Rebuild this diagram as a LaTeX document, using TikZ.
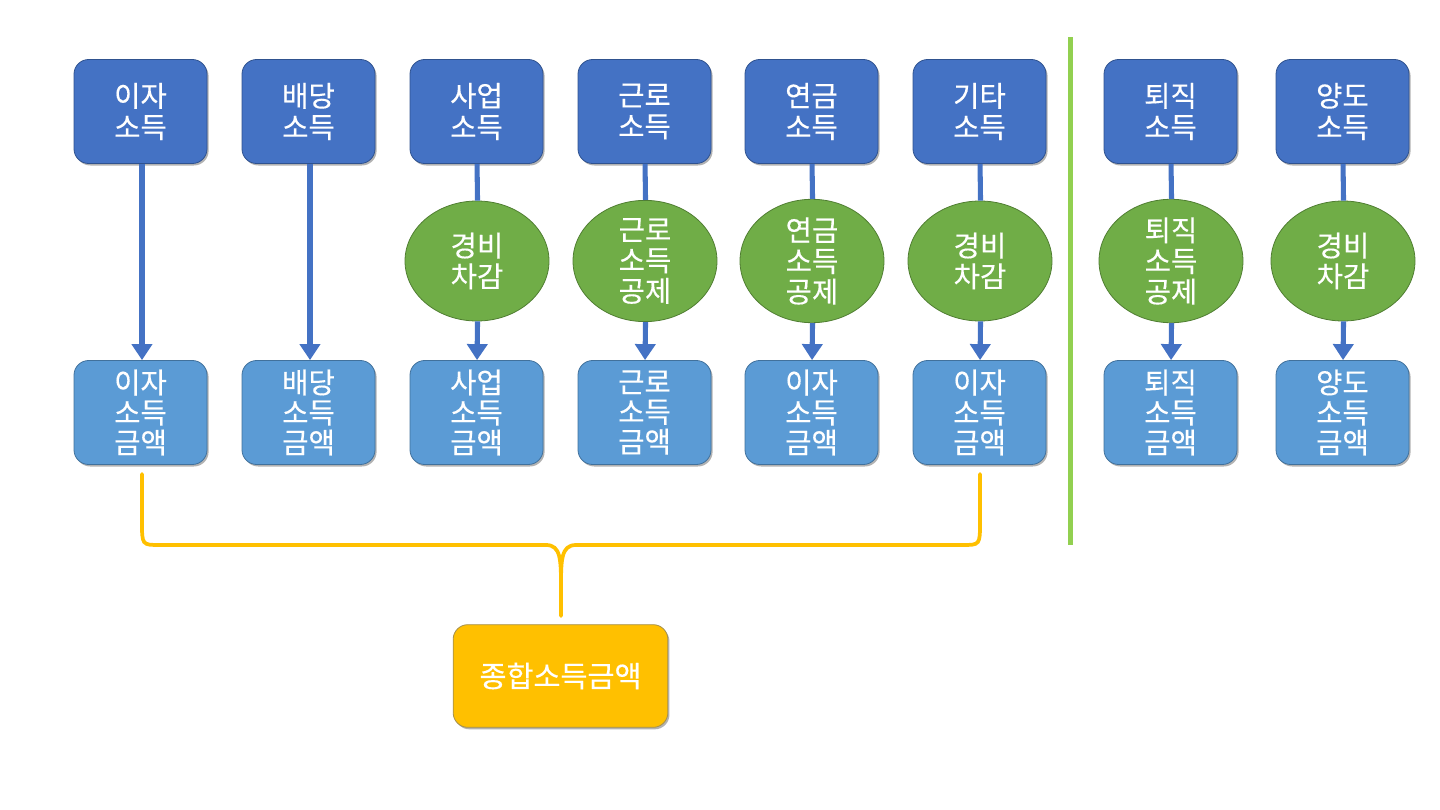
\documentclass[tikz,border=0pt]{standalone}
\usepackage{fontspec}
\setmainfont{Noto Sans CJK KR}[FakeBold=0.3]
\usetikzlibrary{arrows.meta,shapes.geometric,shadows}
\definecolor{topblue}{HTML}{4472C4}
\definecolor{topborder}{HTML}{2F528F}
\definecolor{lowblue}{HTML}{5B9BD5}
\definecolor{lowborder}{HTML}{41719C}
\definecolor{dedgreen}{HTML}{70AD47}
\definecolor{dedborder}{HTML}{507E32}
\definecolor{sumgold}{HTML}{FFC000}
\definecolor{sumborder}{HTML}{7F6000}
\definecolor{divgreen}{HTML}{92D050}
\tikzset{
  shad/.style={drop shadow={shadow xshift=1.2pt,shadow yshift=-1.5pt,opacity=0.3,fill=black}},
  topbox/.style={rectangle,rounded corners=11pt,minimum width=99.75pt,minimum height=78pt,
    fill=topblue,draw=topborder,line width=0.6pt,text=white,align=center,
    font=\fontsize{21.5}{23.5}\selectfont,inner sep=0pt,shad},
  lowbox/.style={topbox,fill=lowblue,draw=lowborder,font=\fontsize{21.5}{22.5}\selectfont},
  dedell/.style={ellipse,minimum width=108pt,minimum height=90pt,inner sep=0pt,
    fill=dedgreen,draw=dedborder,line width=0.6pt,text=white,align=center,
    font=\fontsize{21.5}{23}\selectfont},
  sumbox/.style={topbox,minimum width=161pt,minimum height=77pt,fill=sumgold,draw=sumborder!70,
    font=\fontsize{22}{24}\selectfont},
  flow/.style={draw=topblue,line width=3.8pt},
  flowarr/.style={flow,-{Triangle[width=15pt,length=12pt]}},
  brace/.style={draw=sumgold,line width=2.8pt,line cap=round},
  divider/.style={draw=divgreen,line width=3.2pt}
}
\begin{document}
\begin{tikzpicture}[x=0.75pt,y=-0.75pt]
\useasboundingbox (0,0) rectangle (1440,810);
% top boxes
\node[topbox] (t1) at (140.5,111.5) {이자\\소득};
\node[topbox] (t2) at (308.5,111.5) {배당\\소득};
\node[topbox] (t3) at (476.5,111.5) {사업\\소득};
\node[topbox] (t4) at (644.5,111.5) {근로\\소득};
\node[topbox] (t5) at (811.5,111.5) {연금\\소득};
\node[topbox] (t6) at (979.5,111.5) {기타\\소득};
\node[topbox] (t7) at (1170.5,111.5) {퇴직\\소득};
\node[topbox] (t8) at (1342.5,111.5) {양도\\소득};
% ellipses
\node[dedell] (e3) at (477,261) {경비\\차감};
\node[dedell] (e4) at (645,261) {근로\\소득\\공제};
\node[dedell] (e5) at (812,261) {연금\\소득\\공제};
\node[dedell] (e6) at (980,261) {경비\\차감};
\node[dedell] (e7) at (1171,261) {퇴직\\소득\\공제};
\node[dedell] (e8) at (1343,261) {경비\\차감};
% bottom boxes
\node[lowbox] (b1) at (140.5,412.5) {이자\\소득\\금액};
\node[lowbox] (b2) at (308.5,412.5) {배당\\소득\\금액};
\node[lowbox] (b3) at (476.5,412.5) {사업\\소득\\금액};
\node[lowbox] (b4) at (644.5,412.5) {근로\\소득\\금액};
\node[lowbox] (b5) at (811.5,412.5) {이자\\소득\\금액};
\node[lowbox] (b6) at (979.5,412.5) {이자\\소득\\금액};
\node[lowbox] (b7) at (1170.5,412.5) {퇴직\\소득\\금액};
\node[lowbox] (b8) at (1342.5,412.5) {양도\\소득\\금액};
% sum box
\node[sumbox] (sum) at (560.5,676) {종합소득금액};
% flows
\draw[flowarr] ([xshift=1.1pt]t1.south) -- ([xshift=1.1pt]b1.north);
\draw[flowarr] ([xshift=1.1pt]t2.south) -- ([xshift=1.1pt]b2.north);
\foreach \i in {3,...,8}{
  \draw[flow] ([xshift=0.4pt]t\i.south) -- ([xshift=0.4pt]e\i.north);
  \draw[flowarr] ([xshift=0.4pt]e\i.south) -- ([xshift=0.4pt]b\i.north);
}
% divider
\coordinate (dvtop) at (1070.5,37);
\coordinate (dvbot) at (1070.5,545);
\draw[divider] (dvtop) -- (dvbot);
% brace
\coordinate (brl) at (142,474);
\coordinate (brr) at (980,474);
\coordinate (brm) at (561,616);
\draw[brace] (brl) -- (142,522) .. controls (142,545) .. (160,545)
  -- (546,545) .. controls (561,545) and (561,560) .. (561,588) -- (brm);
\draw[brace] (561,588) .. controls (561,560) and (561,545) .. (576,545)
  -- (962,545) .. controls (980,545) .. (980,522) -- (brr);
\end{tikzpicture}
\end{document}
